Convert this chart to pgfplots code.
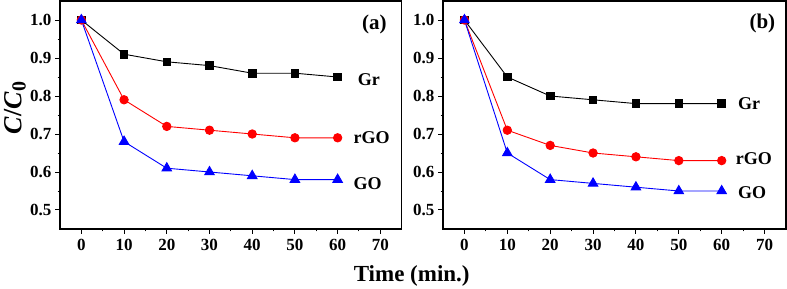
\documentclass[border=0pt]{standalone}
\usepackage{fontspec}
\setmainfont{Liberation Serif}
\usepackage{pgfplots}
\pgfplotsset{compat=1.18}
\definecolor{myred}{RGB}{255,0,0}
\definecolor{myblue}{RGB}{0,0,255}
\pgfplotsset{
 myax/.style={
  scale only axis, width=341.7pt, height=228pt,
  xmin=-5, xmax=75, ymin=0.45, ymax=1.05,
  xtick={0,10,20,30,40,50,60,70}, ytick={0.5,0.6,0.7,0.8,0.9,1.0},
  minor x tick num=1, minor y tick num=1,
  tick align=outside, xtick pos=bottom, ytick pos=left,
  major tick length=5pt, minor tick length=2.5pt,
  axis line style={line width=1.2pt},
  every tick/.style={line width=1pt, black},
  ticklabel style={font=\fontsize{17}{17}\selectfont\bfseries},
  xticklabel style={yshift=-1.5pt},
  /pgf/number format/assume math mode=true,
  yticklabel style={/pgf/number format/fixed, /pgf/number format/fixed zerofill, /pgf/number format/precision=1},
  clip=false,
 },
}
\tikzset{
 gr/.style={black, line width=0.9pt, mark=square*, mark size=3.8pt, mark options={solid}},
 rgo/.style={myred, line width=0.9pt, mark=*, mark size=4.2pt},
 go/.style={myblue, line width=0.9pt, mark=triangle*, mark size=5.5pt},
 lab/.style={anchor=west, font=\fontsize{18}{18}\selectfont\bfseries},
 pan/.style={anchor=east, font=\fontsize{21}{21}\selectfont\bfseries},
}
\begin{document}
\begin{tikzpicture}[x=1pt,y=1pt]
\path[use as bounding box] (0,0) rectangle (787,289);
\begin{axis}[myax, at={(60pt,60pt)}, anchor=south west]
\addplot[gr] coordinates {(0,1.0) (10,0.91) (20,0.89) (30,0.88) (40,0.86) (50,0.86) (60,0.85)};
\addplot[rgo] coordinates {(0,1.0) (10,0.79) (20,0.72) (30,0.71) (40,0.70) (50,0.69) (60,0.69)};
\addplot[go] coordinates {(0,1.0) (10,0.68) (20,0.61) (30,0.60) (40,0.59) (50,0.58) (60,0.58)};
\node[lab] at (axis cs:63.9,0.842) {Gr};
\node[lab] at (axis cs:62.9,0.691) {rGO};
\node[lab] at (axis cs:62.9,0.570) {GO};
\node[pan] at (axis cs:72.3,0.987) {(a)};
\end{axis}
\begin{axis}[myax, width=343pt, at={(443pt,60pt)}, anchor=south west]
\addplot[gr] coordinates {(0,1.0) (10,0.85) (20,0.80) (30,0.79) (40,0.78) (50,0.78) (60,0.78)};
\addplot[rgo] coordinates {(0,1.0) (10,0.71) (20,0.67) (30,0.65) (40,0.64) (50,0.63) (60,0.63)};
\addplot[go] coordinates {(0,1.0) (10,0.65) (20,0.58) (30,0.57) (40,0.56) (50,0.55) (60,0.55)};
\node[lab] at (axis cs:63.0,0.780) {Gr};
\node[lab] at (axis cs:62.5,0.635) {rGO};
\node[lab] at (axis cs:63.0,0.547) {GO};
\node[pan] at (axis cs:73.3,0.991) {(b)};
\end{axis}
\node[anchor=base, font=\fontsize{23}{23}\selectfont\bfseries] at (411.7,7) {Time (min.)};
\node[rotate=90, font=\fontsize{26}{26}\selectfont\bfseries] at (15,181) {\textit{C}/\textit{C}\raisebox{-0.35ex}{\fontsize{20}{20}\selectfont 0}};
\end{tikzpicture}
\end{document}
